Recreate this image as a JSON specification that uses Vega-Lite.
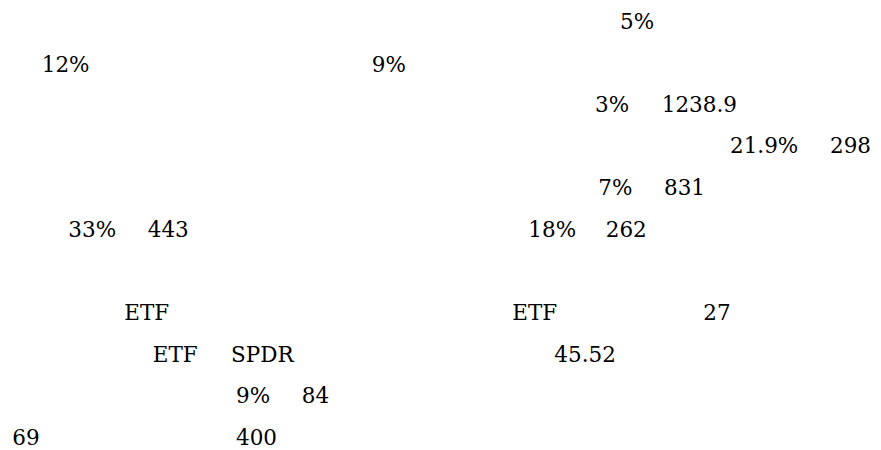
{
  "$schema": "https://vega.github.io/schema/vega-lite/v6.json",
  "width": 881,
  "height": 450,
  "autosize": {"type": "fit", "contains": "padding"},
  "padding": 0,
  "background": "white",
  "config": {"view": {"stroke": null}},
  "data": {
    "values": [
      {"t": "5%", "x": 620, "y": 29},
      {"t": "12%", "x": 41.7, "y": 72},
      {"t": "9%", "x": 371.7, "y": 72},
      {"t": "3%", "x": 595, "y": 111.7},
      {"t": "1238.9", "x": 661.7, "y": 111.7},
      {"t": "21.9%", "x": 730, "y": 153.3},
      {"t": "298", "x": 830, "y": 153.3},
      {"t": "7%", "x": 598.3, "y": 195},
      {"t": "831", "x": 664, "y": 195},
      {"t": "33%", "x": 68.3, "y": 236.7},
      {"t": "443", "x": 147.7, "y": 236.7},
      {"t": "18%", "x": 528.3, "y": 236.7},
      {"t": "262", "x": 605.7, "y": 236.7},
      {"t": "ETF", "x": 124.3, "y": 320},
      {"t": "ETF", "x": 512.3, "y": 320},
      {"t": "27", "x": 703.3, "y": 320},
      {"t": "ETF", "x": 152.7, "y": 361.7},
      {"t": "SPDR", "x": 231, "y": 361.7},
      {"t": "45.52", "x": 554.3, "y": 361.7},
      {"t": "9%", "x": 236, "y": 403.3},
      {"t": "84", "x": 301.7, "y": 403.3},
      {"t": "69", "x": 12.3, "y": 445},
      {"t": "400", "x": 236, "y": 445}
    ]
  },
  "mark": {"type": "text", "align": "left", "baseline": "alphabetic", "font": "DejaVu Serif", "fontSize": 21.5, "color": "black"},
  "encoding": {
    "x": {"field": "x", "type": "quantitative", "scale": {"domain": [0, 881], "nice": false, "zero": false}, "axis": null},
    "y": {"field": "y", "type": "quantitative", "scale": {"domain": [0, 450], "reverse": true, "nice": false, "zero": false}, "axis": null},
    "text": {"field": "t"}
  }
}
